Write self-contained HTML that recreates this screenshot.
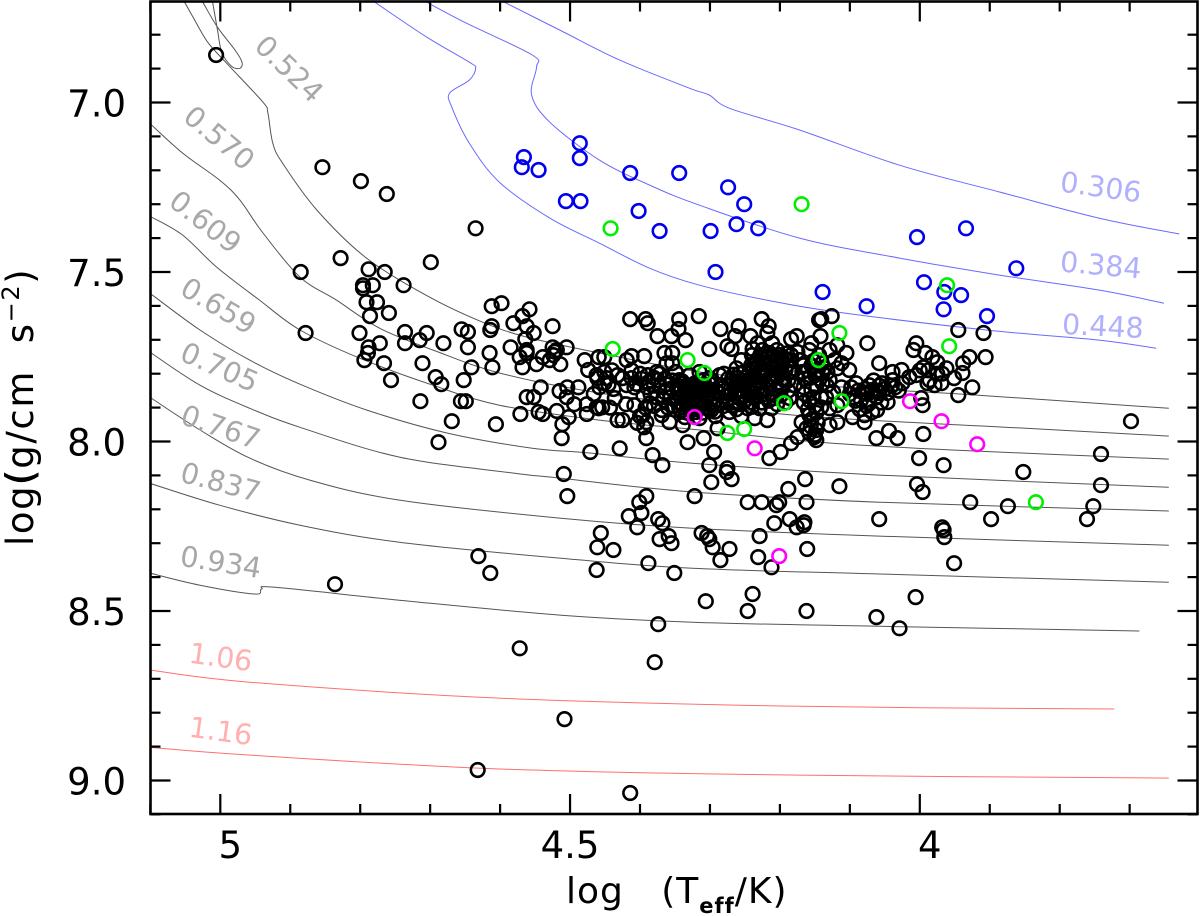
<!DOCTYPE html>
<html>
<head>
<meta charset="utf-8">
<title>log g vs log Teff</title>
<style>
html,body{margin:0;padding:0;background:#fff;width:1200px;height:916px;overflow:hidden}
svg{display:block}
text{font-family:"DejaVu Sans","Liberation Sans",sans-serif}
</style>
</head>
<body>
<svg id="chart" xmlns="http://www.w3.org/2000/svg" width="1200" height="916" viewBox="0 0 1200 916">
  <defs><clipPath id="plot-clip"><rect x="150" y="2" width="1048" height="812"/></clipPath></defs>
  <rect x="0" y="0" width="1200" height="916" fill="#fff"/>
  <g id="curves" clip-path="url(#plot-clip)" fill="none" stroke-width="1"></g>
  <g font-size="28.5">
    <text fill="#a8a8a8" text-anchor="middle" transform="translate(290,68) rotate(44) translate(0,11)">0.524</text>
    <text fill="#a8a8a8" text-anchor="middle" transform="translate(220,137) rotate(40) translate(0,11)">0.570</text>
    <text fill="#a8a8a8" text-anchor="middle" transform="translate(206,221) rotate(38) translate(0,11)">0.609</text>
    <text fill="#a8a8a8" text-anchor="middle" transform="translate(219,305) rotate(31) translate(0,11)">0.659</text>
    <text fill="#a8a8a8" text-anchor="middle" transform="translate(220,366) rotate(24) translate(0,11)">0.705</text>
    <text fill="#a8a8a8" text-anchor="middle" transform="translate(221,426) rotate(19) translate(0,11)">0.767</text>
    <text fill="#a8a8a8" text-anchor="middle" transform="translate(221,481) rotate(15) translate(0,11)">0.837</text>
    <text fill="#a8a8a8" text-anchor="middle" transform="translate(221,561) rotate(9) translate(0,11)">0.934</text>
    <text fill="#ffb0b0" text-anchor="middle" transform="translate(221,656) rotate(8) translate(0,11)">1.06</text>
    <text fill="#ffb0b0" text-anchor="middle" transform="translate(221,730) rotate(8) translate(0,11)">1.16</text>
    <text fill="#b0b0ff" text-anchor="middle" transform="translate(1101,186) rotate(8) translate(0,11)">0.306</text>
    <text fill="#b0b0ff" text-anchor="middle" transform="translate(1101,264) rotate(5) translate(0,11)">0.384</text>
    <text fill="#b0b0ff" text-anchor="middle" transform="translate(1103,325) rotate(3) translate(0,11)">0.448</text>
  </g>
  <g id="points" fill="none" stroke-width="2.6"></g>
  <g id="axes" stroke="#000" fill="none"></g>
  <rect x="150.5" y="1.5" width="1047" height="812.5" fill="none" stroke="#000" stroke-width="2.6"/>
  <g id="tick-labels" font-size="37" fill="#000"></g>
  <text x="566" y="903" font-size="36" fill="#000" letter-spacing="1" xml:space="preserve">log   (T<tspan font-size="21" font-weight="bold" dy="10">eff</tspan><tspan dy="-10">/K)</tspan></text>
  <text transform="translate(33,546) rotate(-90)" font-size="37" fill="#000" letter-spacing="1.6" xml:space="preserve">log<tspan stroke="#000" stroke-width="1">(</tspan>g/cm  s<tspan font-size="24" dy="-14">−2</tspan><tspan dy="14">)</tspan></text>
</svg>
<script>
// Axis tick values
const xMajorTicks = [5, 4.5, 4];
const xMinorTicks = [5.1, 4.9, 4.8, 4.7, 4.6, 4.4, 4.3, 4.2, 4.1, 3.9, 3.8, 3.7];
const xTickLabels = ["5", "4.5", "4"];
const yMajorTicks = [7, 7.5, 8, 8.5, 9];
const yMinorTicks = [6.8, 6.9, 7.1, 7.2, 7.3, 7.4, 7.6, 7.7, 7.8, 7.9, 8.1, 8.2, 8.3, 8.4, 8.6, 8.7, 8.8, 8.9, 9.1];
const yTickLabels = ["7.0", "7.5", "8.0", "8.5", "9.0"];

// Cooling tracks as [log Teff, log g]
const track0524 = [[5.051,6.704],[5.039,6.748],[5.018,6.822],[4.991,6.884],[4.939,6.999],[4.932,7.031],[4.925,7.120],[4.911,7.179],[4.862,7.317],[4.791,7.459],[4.701,7.574],[4.625,7.648],[4.562,7.692],[4.458,7.739],[4.315,7.795],[4.144,7.834],[3.919,7.863],[3.644,7.902]];
const track0524Loop = [[5.025,6.704],[5.004,6.778],[4.979,6.845],[4.969,6.881],[4.972,6.899],[4.984,6.893],[4.998,6.851],[5.004,6.786],[5.011,6.704]];
const track0570 = [[5.101,7.061],[5.054,7.149],[5.001,7.229],[4.972,7.288],[4.939,7.385],[4.886,7.515],[4.834,7.583],[4.772,7.666],[4.696,7.730],[4.601,7.798],[4.458,7.857],[4.315,7.893],[4.144,7.928],[3.858,7.960],[3.644,7.984]];
const track0609 = [[5.101,7.335],[5.054,7.391],[5.005,7.486],[4.944,7.583],[4.886,7.671],[4.801,7.754],[4.696,7.834],[4.601,7.893],[4.458,7.937],[4.315,7.966],[4.144,8.002],[3.954,8.025],[3.644,8.052]];
const track0659 = [[5.101,7.562],[5.029,7.671],[4.958,7.760],[4.886,7.831],[4.791,7.907],[4.676,7.975],[4.554,8.020],[4.472,8.034],[4.325,8.064],[4.058,8.099],[3.644,8.135]];
const track0705 = [[5.101,7.736],[5.029,7.834],[4.958,7.902],[4.886,7.958],[4.744,8.046],[4.582,8.093],[4.515,8.108],[4.325,8.149],[4.058,8.179],[3.644,8.205]];
const track0767 = [[5.101,7.869],[5.029,7.966],[4.958,8.049],[4.872,8.114],[4.744,8.173],[4.515,8.226],[4.325,8.256],[4.058,8.279],[3.644,8.306]];
const track0837 = [[5.101,8.123],[5.001,8.188],[4.886,8.247],[4.744,8.297],[4.515,8.344],[4.325,8.374],[4.058,8.391],[3.644,8.415]];
const track0934 = [[5.101,8.388],[5.029,8.424],[4.951,8.450],[4.941,8.435],[4.922,8.430],[4.744,8.468],[4.515,8.512],[4.325,8.533],[4.058,8.545],[3.686,8.559]];
const track106 = [[5.101,8.674],[4.958,8.710],[4.601,8.757],[4.172,8.781],[3.722,8.789]];
const track116 = [[5.101,8.902],[4.958,8.925],[4.601,8.966],[4.172,8.984],[3.644,8.993]];
const track0306 = [[4.594,6.704],[4.515,6.786],[4.429,6.875],[4.329,6.958],[4.301,6.978],[4.272,7.017],[4.172,7.081],[4.029,7.185],[3.886,7.264],[3.744,7.341],[3.629,7.388]];
const track0384 = [[4.705,6.704],[4.648,6.766],[4.554,6.860],[4.548,6.896],[4.555,6.978],[4.529,7.058],[4.458,7.170],[4.386,7.244],[4.315,7.303],[4.172,7.400],[4.029,7.459],[3.886,7.509],[3.744,7.553],[3.651,7.592]];
const track0448 = [[4.779,6.704],[4.705,6.807],[4.644,6.881],[4.635,6.899],[4.644,6.934],[4.672,6.972],[4.669,7.014],[4.644,7.120],[4.601,7.235],[4.529,7.341],[4.458,7.415],[4.386,7.489],[4.315,7.539],[4.219,7.583],[4.119,7.618],[3.905,7.671],[3.744,7.701],[3.662,7.725]];

// Stars as [log Teff, log g]
const blackStars = [[5.006,6.860],[4.854,7.191],[4.799,7.232],[4.762,7.270],[4.635,7.371],[4.699,7.471],[4.828,7.459],[4.788,7.492],[4.765,7.500],[4.738,7.539],[4.885,7.500],[4.796,7.539],[4.782,7.539],[4.796,7.548],[4.791,7.589],[4.776,7.589],[4.878,7.680],[4.759,7.621],[4.786,7.630],[4.801,7.680],[4.736,7.677],[4.705,7.680],[4.788,7.722],[4.772,7.710],[4.736,7.710],[4.715,7.701],[4.681,7.710],[4.789,7.739],[4.794,7.760],[4.766,7.769],[4.756,7.819],[4.711,7.769],[4.692,7.810],[4.684,7.831],[4.714,7.881],[4.669,7.940],[4.688,8.002],[4.656,7.881],[4.649,7.881],[4.652,7.819],[4.641,7.781],[4.655,7.669],[4.646,7.677],[4.646,7.722],[4.612,7.601],[4.598,7.592],[4.612,7.660],[4.614,7.671],[4.615,7.739],[4.611,7.781],[4.606,7.949],[4.585,7.722],[4.581,7.651],[4.568,7.630],[4.558,7.610],[4.562,7.660],[4.552,7.680],[4.564,7.698],[4.525,7.660],[4.572,7.751],[4.562,7.730],[4.562,7.739],[4.568,7.781],[4.548,7.772],[4.539,7.751],[4.529,7.760],[4.525,7.722],[4.519,7.730],[4.524,7.745],[4.522,7.735],[4.505,7.722],[4.514,7.772],[4.479,7.760],[4.474,7.789],[4.459,7.751],[4.461,7.813],[4.458,7.840],[4.542,7.840],[4.562,7.869],[4.552,7.869],[4.515,7.851],[4.504,7.840],[4.488,7.840],[4.505,7.869],[4.494,7.890],[4.476,7.890],[4.466,7.860],[4.459,7.902],[4.571,7.919],[4.545,7.913],[4.539,7.919],[4.519,7.910],[4.502,7.928],[4.511,7.949],[4.476,7.919],[4.512,7.990],[4.471,8.031],[4.509,8.096],
[4.414,7.639],[4.392,7.639],[4.389,7.651],[4.344,7.639],[4.316,7.630],[4.345,7.668],[4.375,7.689],[4.355,7.689],[4.335,7.701],[4.285,7.668],[4.259,7.660],[4.226,7.639],[4.216,7.660],[4.218,7.680],[4.242,7.689],[4.264,7.689],[4.126,7.630],[4.141,7.639],[4.144,7.642],[4.176,7.689],[4.184,7.698],[4.155,7.710],[4.142,7.689],[4.301,7.727],[4.275,7.719],[4.269,7.727],[4.211,7.710],[4.232,7.710],[4.365,7.739],[4.354,7.739],[4.394,7.748],[4.412,7.748],[4.451,7.751],[4.419,7.760],[4.239,7.727],[4.225,7.730],[4.215,7.739],[4.451,7.795],[4.462,7.804],[4.448,7.813],[4.451,7.828],[4.432,7.804],[4.425,7.813],[4.412,7.813],[4.408,7.840],[4.419,7.834],[4.436,7.872],[4.454,7.899],[4.462,7.899],[4.408,7.893],[4.386,7.887],[4.396,7.922],[4.391,7.943],[4.394,7.958],[4.391,7.990],[4.429,8.020],[4.432,7.937],[4.425,7.937],[4.369,7.922],[4.358,7.943],[4.382,8.040],[4.368,8.070],[4.389,7.804],[4.376,7.795],[4.375,7.819],[4.365,7.854],[4.349,7.795],[4.362,7.769],[4.354,7.769],[4.369,7.907],[4.339,7.952],[4.332,8.002],[4.309,7.990],[4.289,7.961],[4.294,8.031],[4.301,8.070],[4.275,8.079],[4.215,8.049],[4.199,8.031],[4.184,8.005],[4.175,7.987],[4.169,7.943],[4.158,7.922],[4.151,7.987],[4.129,7.952],[4.162,7.961],[4.148,7.966],[4.148,7.996],
[4.344,7.819],[4.329,7.804],[4.315,7.795],[4.301,7.813],[4.286,7.804],[4.355,7.843],[4.341,7.848],[4.326,7.834],[4.312,7.837],[4.298,7.848],[4.284,7.834],[4.269,7.819],[4.349,7.872],[4.335,7.878],[4.321,7.869],[4.306,7.872],[4.292,7.878],[4.278,7.866],[4.264,7.854],[4.344,7.902],[4.329,7.907],[4.315,7.902],[4.298,7.907],[4.281,7.896],[4.266,7.884],[4.336,7.928],[4.315,7.931],[4.292,7.925],[4.272,7.913],[4.324,7.854],[4.309,7.819],
[4.255,7.760],[4.241,7.775],[4.226,7.754],[4.212,7.766],[4.198,7.784],[4.251,7.795],[4.236,7.807],[4.222,7.789],[4.208,7.801],[4.194,7.819],[4.258,7.825],[4.244,7.837],[4.229,7.825],[4.215,7.837],[4.201,7.848],[4.186,7.795],[4.251,7.863],[4.236,7.872],[4.222,7.860],[4.208,7.872],[4.265,7.893],[4.246,7.902],[4.229,7.902],[4.212,7.902],[4.255,7.925],[4.236,7.931],[4.218,7.937],[4.179,7.834],[4.186,7.872],[4.172,7.760],[4.168,7.795],[4.175,7.736],[4.194,7.754],[4.204,7.730],[4.262,7.784],
[4.158,7.730],[4.144,7.745],[4.129,7.730],[4.118,7.716],[4.155,7.775],[4.136,7.784],[4.122,7.760],[4.105,7.739],[4.112,7.769],[4.101,7.789],[4.118,7.784],[4.112,7.840],[4.139,7.798],[4.139,7.828],[4.141,7.869],[4.141,7.899],[4.158,7.813],[4.155,7.848],[4.158,7.878],[4.129,7.819],[4.124,7.854],[4.118,7.893],[4.129,7.902],[4.118,7.943],
[3.945,7.671],[3.909,7.680],[4.075,7.710],[3.906,7.751],[3.929,7.751],[3.938,7.769],[4.005,7.710],[4.009,7.730],[3.992,7.739],[3.982,7.751],[3.975,7.766],[4.058,7.769],[3.962,7.784],[3.995,7.781],[4.005,7.804],[4.039,7.795],[4.026,7.789],[3.939,7.798],[3.951,7.813],[3.925,7.840],[3.945,7.863],[3.969,7.828],[3.979,7.834],[3.989,7.828],[3.986,7.819],[4.025,7.828],[4.039,7.819],[4.054,7.828],[4.072,7.834],[4.091,7.828],[4.082,7.854],[4.068,7.848],[4.058,7.857],[4.046,7.857],[4.046,7.884],[4.084,7.878],[4.072,7.887],[3.998,7.872],[3.996,7.893],[4.061,7.907],[4.068,7.913],[4.096,7.928],[4.079,7.943],[4.079,7.922],[4.062,7.990],[4.044,7.969],[4.032,7.990],[3.995,7.978],[4.001,8.049],[3.966,8.070],[3.852,8.090],[3.698,7.940],[3.741,8.037],[3.741,8.129],[3.752,8.191],[3.761,8.229],[4.115,8.132],[4.004,8.126],[3.996,8.149],[3.928,8.179],[3.874,8.191],[3.898,8.229],[4.058,8.229],[3.968,8.253],[3.966,8.261],[3.965,8.282],[3.951,8.359],
[4.504,8.161],[4.276,8.090],[4.269,8.111],[4.298,8.120],[4.322,8.161],[4.164,8.111],[4.188,8.140],[4.162,8.179],[4.246,8.179],[4.226,8.179],[4.205,8.188],[4.201,8.179],[4.186,8.229],[4.208,8.241],[4.165,8.238],[4.166,8.247],[4.176,8.253],[4.391,8.161],[4.401,8.179],[4.398,8.211],[4.416,8.220],[4.404,8.253],[4.374,8.229],[4.368,8.241],[4.359,8.279],[4.372,8.288],[4.355,8.300],[4.312,8.270],[4.304,8.279],[4.301,8.288],[4.296,8.312],[4.272,8.317],[4.285,8.350],[4.229,8.279],[4.231,8.341],[4.212,8.371],[4.161,8.317],[4.456,8.270],[4.461,8.312],[4.438,8.320],[4.462,8.379],[4.388,8.359],[4.351,8.388],[4.239,8.450],[4.246,8.500],[4.306,8.471],[4.162,8.500],[4.374,8.539],[4.379,8.651],[4.062,8.518],[4.029,8.551],[4.006,8.459],[4.631,8.338],[4.614,8.388],[4.836,8.421],[4.572,8.610],[4.508,8.819],[4.632,8.969],[4.414,9.037]];
const blackStarsClusterA = [[4.346,7.835],[4.338,7.828],[4.331,7.842],[4.322,7.829],[4.317,7.846],[4.308,7.832],[4.302,7.845],[4.345,7.855],[4.337,7.861],[4.329,7.852],[4.319,7.860],[4.311,7.857],[4.303,7.862],[4.296,7.858],[4.347,7.884],[4.340,7.890],[4.331,7.878],[4.326,7.893],[4.318,7.884],[4.309,7.889],[4.300,7.886],[4.342,7.910],[4.333,7.915],[4.324,7.905],[4.310,7.915],[4.303,7.900],[4.352,7.895],[4.290,7.892],[4.340,7.822],[4.333,7.835],[4.325,7.843],[4.316,7.838],[4.306,7.845],[4.297,7.832],[4.342,7.868],[4.334,7.870],[4.327,7.866],[4.314,7.873],[4.306,7.880],[4.296,7.870],[4.338,7.900],[4.328,7.897],[4.320,7.913],[4.313,7.895],[4.302,7.905],[4.293,7.912],[4.345,7.846],[4.291,7.850]];
const blackStarsClusterB = [[4.270,7.845],[4.262,7.835],[4.256,7.848],[4.250,7.830],[4.243,7.815],[4.238,7.790],[4.232,7.778],[4.228,7.800],[4.220,7.770],[4.216,7.815],[4.210,7.785],[4.205,7.760],[4.200,7.800],[4.196,7.835],[4.190,7.775],[4.188,7.850],[4.248,7.810],[4.258,7.800],[4.244,7.855],[4.236,7.840],[4.228,7.850],[4.220,7.845],[4.214,7.858],[4.206,7.845],[4.199,7.865],[4.192,7.885],[4.240,7.885],[4.226,7.885],[4.216,7.880],[4.204,7.890],[4.260,7.870],[4.252,7.885],[4.233,7.760],[4.218,7.750],[4.200,7.745],[4.190,7.740],[4.280,7.800],[4.274,7.815],[4.266,7.803],[4.260,7.812],[4.252,7.825],[4.242,7.820],[4.236,7.830],[4.278,7.850],[4.270,7.860],[4.262,7.850],[4.254,7.865],[4.246,7.850],[4.238,7.855],[4.276,7.885],[4.268,7.895],[4.258,7.890],[4.248,7.875],[4.240,7.898],[4.234,7.870],[4.262,7.905],[4.240,7.745],[4.234,7.770],[4.228,7.745],[4.222,7.760],[4.216,7.775],[4.210,7.745],[4.204,7.775],[4.198,7.755],[4.192,7.790],[4.186,7.760],[4.238,7.805],[4.230,7.795],[4.224,7.812],[4.218,7.795],[4.212,7.820],[4.204,7.810],[4.196,7.815],[4.188,7.820],[4.182,7.785],[4.184,7.745]];
const blackStarsClusterC = [[4.166,7.775],[4.160,7.790],[4.152,7.762],[4.146,7.790],[4.140,7.770],[4.132,7.795],[4.165,7.815],[4.150,7.805],[4.143,7.815],[4.133,7.835],[4.166,7.840],[4.148,7.835],[4.165,7.860],[4.152,7.870],[4.134,7.870],[4.166,7.885],[4.150,7.895],[4.160,7.905],[4.148,7.915],[4.155,7.935],[4.146,7.945],[4.156,7.955],[4.150,7.980],[4.158,7.975]];
const blackStarsClusterD = [[4.440,7.790],[4.445,7.832],[4.438,7.845],[4.412,7.790],[4.400,7.800],[4.405,7.830],[4.390,7.840],[4.380,7.835],[4.372,7.800],[4.365,7.815],[4.443,7.900],[4.420,7.890],[4.400,7.925],[4.404,7.945],[4.000,7.790],[3.988,7.790],[3.975,7.800],[3.968,7.800],[4.015,7.810],[4.058,7.835],[4.035,7.840],[4.062,7.870],[4.092,7.880],[4.100,7.860],[4.075,7.860],[4.055,7.885],[4.086,7.905]];
const blackStarsClusterE = [[4.398,7.815],[4.388,7.825],[4.380,7.812],[4.372,7.838],[4.362,7.832],[4.354,7.820],[4.395,7.865],[4.385,7.860],[4.376,7.870],[4.366,7.878],[4.356,7.868],[4.392,7.900],[4.380,7.895],[4.360,7.900],[4.098,7.840],[4.088,7.850],[4.078,7.845],[4.066,7.820],[4.050,7.845],[4.040,7.835],[4.030,7.850],[4.094,7.870],[4.076,7.895],[4.060,7.850]];
const blueStars = [[4.566,7.161],[4.569,7.191],[4.545,7.199],[4.506,7.291],[4.485,7.291],[4.486,7.164],[4.486,7.120],[4.414,7.208],[4.344,7.208],[4.274,7.250],[4.251,7.300],[4.262,7.359],[4.231,7.371],[4.402,7.320],[4.372,7.379],[4.299,7.379],[4.292,7.500],[4.139,7.559],[4.076,7.601],[4.004,7.397],[3.994,7.530],[3.966,7.610],[3.965,7.559],[3.941,7.568],[3.934,7.371],[3.862,7.489],[3.904,7.630]];
const greenStars = [[4.442,7.371],[4.169,7.300],[3.961,7.539],[4.115,7.680],[3.958,7.719],[4.439,7.727],[4.332,7.760],[4.308,7.798],[4.145,7.760],[4.194,7.887],[4.112,7.881],[4.275,7.975],[4.251,7.963],[3.834,8.179]];
const magentaStars = [[4.322,7.928],[4.236,8.020],[4.201,8.338],[4.014,7.881],[3.969,7.940],[3.918,8.008]];

const NS = 'http://www.w3.org/2000/svg';
function xScale(t) { return 220.3 + (5 - t) * 699.5; }
function yScale(g) { return 102.5 + (g - 7) * 339; }

const curvesLayer = document.getElementById('curves');
function trackPath(points) {
  const p = points.map(function (q) { return [xScale(q[0]), yScale(q[1])]; });
  let d = 'M' + p[0][0].toFixed(1) + ' ' + p[0][1].toFixed(1);
  for (let i = 0; i < p.length - 1; i++) {
    const a = p[Math.max(i - 1, 0)];
    const b = p[i];
    const c = p[i + 1];
    const e = p[Math.min(i + 2, p.length - 1)];
    const c1x = b[0] + (c[0] - a[0]) / 6;
    const c1y = b[1] + (c[1] - a[1]) / 6;
    const c2x = c[0] - (e[0] - b[0]) / 6;
    const c2y = c[1] - (e[1] - b[1]) / 6;
    d += 'C' + c1x.toFixed(1) + ' ' + c1y.toFixed(1) + ' ' + c2x.toFixed(1) + ' ' + c2y.toFixed(1) + ' ' + c[0].toFixed(1) + ' ' + c[1].toFixed(1);
  }
  return d;
}
function drawTrack(points, colour, name) {
  const line = document.createElementNS(NS, 'path');
  line.setAttribute('d', trackPath(points));
  line.setAttribute('stroke', colour);
  
  
  curvesLayer.appendChild(line);
}
drawTrack(track0524, '#555', 'track-0524');
drawTrack(track0524Loop, '#555', 'track-0524-loop');
drawTrack(track0570, '#555', 'track-0570');
drawTrack(track0609, '#555', 'track-0609');
drawTrack(track0659, '#555', 'track-0659');
drawTrack(track0705, '#555', 'track-0705');
drawTrack(track0767, '#555', 'track-0767');
drawTrack(track0837, '#555', 'track-0837');
drawTrack(track0934, '#555', 'track-0934');
drawTrack(track106, '#ff7070', 'track-106');
drawTrack(track116, '#ff7070', 'track-116');
drawTrack(track0306, '#6a6aff', 'track-0306');
drawTrack(track0384, '#6a6aff', 'track-0384');
drawTrack(track0448, '#6a6aff', 'track-0448');

const pointsLayer = document.getElementById('points');
function drawStars(stars, colour, name) {
  stars.forEach(function (s) {
    const c = document.createElementNS(NS, 'circle');
    c.setAttribute('cx', xScale(s[0]).toFixed(1));
    c.setAttribute('cy', yScale(s[1]).toFixed(1));
    c.setAttribute('r', '6.8');
    c.setAttribute('stroke', colour);
    
    
    pointsLayer.appendChild(c);
  });
}
drawStars(blackStars, '#000', 'star-black');
drawStars(blackStarsClusterA, '#000', 'star-black');
drawStars(blackStarsClusterB, '#000', 'star-black');
drawStars(blackStarsClusterC, '#000', 'star-black');
drawStars(blackStarsClusterD, '#000', 'star-black');
drawStars(blackStarsClusterE, '#000', 'star-black');
drawStars(blueStars, '#0000ee', 'star-blue');
drawStars(greenStars, '#00ee00', 'star-green');
drawStars(magentaStars, '#ff00ff', 'star-magenta');

const axesLayer = document.getElementById('axes');
function tickLine(x1, y1, x2, y2, width, name) {
  const l = document.createElementNS(NS, 'line');
  l.setAttribute('x1', x1);
  l.setAttribute('y1', y1);
  l.setAttribute('x2', x2);
  l.setAttribute('y2', y2);
  l.setAttribute('stroke-width', width);
  
  
  axesLayer.appendChild(l);
}
const FRAME = { left: 150.5, right: 1197.5, top: 1.5, bottom: 814 };
function xTick(v, len) {
  const x = xScale(v);
  tickLine(x, FRAME.bottom, x, FRAME.bottom - len, 2.2, 'x-tick');
  tickLine(x, FRAME.top, x, FRAME.top + len, 2.2, 'x-tick-top');
}
function yTick(v, len) {
  const y = yScale(v);
  tickLine(FRAME.left, y, FRAME.left + len, y, 2.2, 'y-tick');
  tickLine(FRAME.right, y, FRAME.right - len, y, 2.2, 'y-tick-right');
}
xMajorTicks.forEach(function (v) { xTick(v, 20); });
xMinorTicks.forEach(function (v) { xTick(v, 10); });
yMajorTicks.forEach(function (v) { yTick(v, 20); });
yMinorTicks.forEach(function (v) { yTick(v, 10); });

const labelLayer = document.getElementById('tick-labels');
function axisLabel(str, x, y, anchor, name) {
  const t = document.createElementNS(NS, 'text');
  t.setAttribute('x', x);
  t.setAttribute('y', y);
  t.setAttribute('text-anchor', anchor);
  
  
  t.textContent = str;
  labelLayer.appendChild(t);
}
xMajorTicks.forEach(function (v, i) {
  const lab = xTickLabels[i];
  axisLabel(lab, xScale(v) + (lab.length === 1 ? 10 : 0), 858, 'middle', 'x-tick-label');
});
yMajorTicks.forEach(function (v, i) {
  axisLabel(yTickLabels[i], 126, yScale(v) + 14, 'end', 'y-tick-label');
});
</script>
</body>
</html>
